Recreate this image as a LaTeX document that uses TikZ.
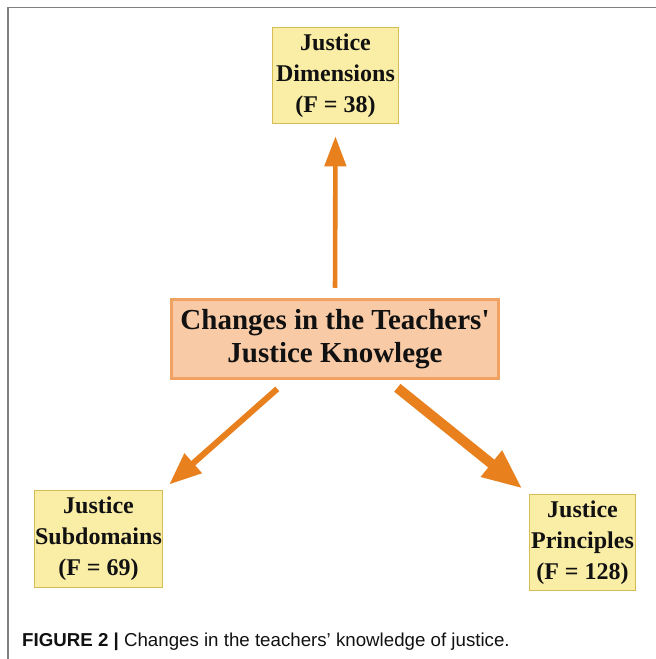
\documentclass[tikz,border=0pt]{standalone}
\usepackage{fontspec}
\setmainfont{Liberation Serif}
\setsansfont{Liberation Sans}
\usepackage{tikz}
\usetikzlibrary{arrows.meta,calc,positioning}
\definecolor{ink}{HTML}{111111}
\definecolor{framegray}{HTML}{808080}
\definecolor{arroworange}{HTML}{E8801E}
\definecolor{yelbg}{HTML}{FAEDA6}
\definecolor{yeledge}{HTML}{D6BC55}
\definecolor{peachbg}{HTML}{F8CBA6}
\definecolor{peachedge}{HTML}{F0A263}
\tikzset{
  leafcard/.style={draw=yeledge,fill=yelbg,line width=1.6pt,align=center,inner sep=0pt,
    font=\bfseries\fontsize{24}{31}\selectfont,text=ink},
  hubcard/.style={draw=peachedge,fill=peachbg,line width=3.5pt,align=center,inner sep=0pt,
    minimum width=327pt,minimum height=79pt,font=\bfseries\fontsize{29}{33}\selectfont,text=ink},
  thinarr/.style={-{Triangle[length=30pt,width=21pt]},line width=4.6pt,color=arroworange},
  midarr/.style={-{Triangle[length=32pt,width=25pt]},line width=6pt,color=arroworange},
  fatarr/.style={-{Triangle[length=40pt,width=31pt]},line width=10pt,color=arroworange}
}

\begin{document}
\begin{tikzpicture}[x=1pt,y=-1pt]
  \useasboundingbox (0,0) rectangle (656,659);
  \draw[framegray,line width=1.5pt] (8,659) -- (8,7.5) -- (656,7.5);

  \node[hubcard] (hub) at (335,339) {Changes in the Teachers\textquotesingle\\Justice Knowlege};
  \node[leafcard,minimum width=126pt,minimum height=96pt] (dim) at (335.5,75.5) {Justice\\Dimensions\\(F = 38)};
  \node[leafcard,minimum width=128pt,minimum height=97pt] (sub) at (98.5,539) {Justice\\Subdomains\\(F = 69)};
  \node[leafcard,minimum width=106pt,minimum height=96pt] (pri) at (582.5,542.5) {Justice\\Principles\\(F = 128)};

  \draw[thinarr,shorten <=10pt,shorten >=12pt] (hub.north) -- (dim.south);
  \draw[midarr,shorten <=13pt,shorten >=8pt] ($(hub.south)+(-48,0)$) -- (sub.north east);
  \draw[fatarr,shorten <=12pt,shorten >=8pt] ($(hub.south)+(53,0)$) -- (pri.north west);

  \node[anchor=base west,inner sep=0pt,font=\sffamily\fontsize{18.7}{22}\selectfont,text=ink] (cap) at (22,646)
    {\textbf{FIGURE 2} \textbf{|} Changes in the teachers’ knowledge of justice.};
\end{tikzpicture}
\end{document}
